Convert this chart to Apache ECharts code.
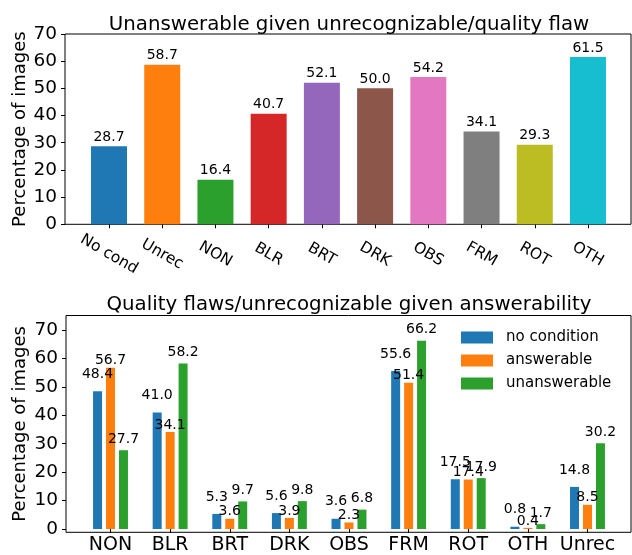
<!DOCTYPE html>
<html>
<head>
<meta charset="utf-8">
<script src="https://cdn.jsdelivr.net/npm/echarts@6/dist/echarts.min.js"></script>
<style>
html,body{margin:0;padding:0;background:#fff;}
#chart{width:632px;height:555px;}
</style>
</head>
<body>
<div id="chart"></div>
<script>
// ---- data ----
const topTitle = 'Unanswerable given unrecognizable/quality flaw';
const bottomTitle = 'Quality flaws/unrecognizable given answerability';
const yName = 'Percentage of images';
const topCategories = ['No cond', 'Unrec', 'NON', 'BLR', 'BRT', 'DRK', 'OBS', 'FRM', 'ROT', 'OTH'];
const topValues = [28.7, 58.7, 16.4, 40.7, 52.1, 50.0, 54.2, 34.1, 29.3, 61.5];
const topColors = ['#1f77b4', '#ff7f0e', '#2ca02c', '#d62728', '#9467bd', '#8c564b', '#e377c2', '#7f7f7f', '#bcbd22', '#17becf'];
const bottomCategories = ['NON', 'BLR', 'BRT', 'DRK', 'OBS', 'FRM', 'ROT', 'OTH', 'Unrec'];
const seriesNames = ['no condition', 'answerable', 'unanswerable'];
const noCondition = [48.4, 41.0, 5.3, 5.6, 3.6, 55.6, 17.5, 0.8, 14.8];
const answerable = [56.7, 34.1, 3.6, 3.9, 2.3, 51.4, 17.4, 0.4, 8.5];
const unanswerable = [27.7, 58.2, 9.7, 9.8, 6.8, 66.2, 17.9, 1.7, 30.2];
const seriesColors = ['#1f77b4', '#ff7f0e', '#2ca02c'];
const yMin = 0, yMax = 70, yStep = 10;
const bottomFrameMax = 75;

// ---- layout ----
const FONT = 'DejaVu Sans';
const topFrame = {left: 65, top: 34, width: 566, height: 190.3};
const topInner = {left: 82.4, top: 34, width: 532.2, height: 190.3};
const botFrame = {left: 66, top: 315.5, width: 565, height: 216.8};
const botInnerH = botFrame.height * yMax / bottomFrameMax;
const botInner = {left: 80.7, top: botFrame.top + botFrame.height - botInnerH, width: 536.6, height: botInnerH};

const chart = echarts.init(document.getElementById('chart'), null, {renderer: 'canvas'});

function frameGrid(g) {
  return Object.assign({show: true, borderColor: '#000', borderWidth: 1, backgroundColor: 'transparent'}, g);
}
function plainGrid(g) { return Object.assign({show: false}, g); }

const fmt = p => Number(p.value).toFixed(1);

const option = {
  animation: false,
  backgroundColor: '#fff',
  textStyle: {fontFamily: FONT},
  title: [
    {text: topTitle, left: 344, top: 10, textAlign: 'center',
     textStyle: {fontFamily: FONT, fontSize: 19.8, fontWeight: 'normal', color: '#000'}},
    {text: bottomTitle, left: 344, top: 290, textAlign: 'center',
     textStyle: {fontFamily: FONT, fontSize: 19.8, fontWeight: 'normal', color: '#000'}}
  ],
  legend: {
    orient: 'vertical', left: 461, top: 330, padding: 0,
    itemWidth: 32, itemHeight: 12, itemGap: 8, icon: 'rect',
    data: seriesNames,
    textStyle: {fontFamily: FONT, fontSize: 15, color: '#000', padding: [0, 0, 0, 8]}
  },
  grid: [frameGrid(topFrame), plainGrid(topInner), frameGrid(botFrame), plainGrid(botInner)],
  xAxis: [
    {gridIndex: 0, type: 'value', show: false},
    {gridIndex: 1, type: 'category', data: topCategories,
     axisLine: {show: false},
     axisTick: {show: true, alignWithLabel: true, length: 4, lineStyle: {color: '#000'}},
     axisLabel: {rotate: -30, align: 'center', verticalAlign: 'middle', margin: 30,
                 fontFamily: FONT, fontSize: 15.5, color: '#000', interval: 0}},
    {gridIndex: 2, type: 'value', show: false},
    {gridIndex: 3, type: 'category', data: bottomCategories,
     axisLine: {show: false},
     axisTick: {show: true, alignWithLabel: true, length: 4, lineStyle: {color: '#000'}},
     axisLabel: {margin: 7, fontFamily: FONT, fontSize: 19, color: '#000', interval: 0}}
  ],
  yAxis: [
    {gridIndex: 0, type: 'value', min: yMin, max: yMax,
     axisLine: {show: false}, axisTick: {show: false}, axisLabel: {show: false}, splitLine: {show: false},
     name: yName, nameLocation: 'middle', nameGap: 36, nameRotate: 90,
     nameTextStyle: {fontFamily: FONT, fontSize: 18, color: '#000'}},
    {gridIndex: 1, type: 'value', min: yMin, max: yMax, interval: yStep, offset: topInner.left - topFrame.left,
     axisLine: {show: false}, splitLine: {show: false},
     axisTick: {show: true, length: 4, lineStyle: {color: '#000'}},
     axisLabel: {margin: 8, fontFamily: FONT, fontSize: 18.5, color: '#000'}},
    {gridIndex: 2, type: 'value', min: yMin, max: bottomFrameMax,
     axisLine: {show: false}, axisTick: {show: false}, axisLabel: {show: false}, splitLine: {show: false},
     name: yName, nameLocation: 'middle', nameGap: 37, nameRotate: 90,
     nameTextStyle: {fontFamily: FONT, fontSize: 18, color: '#000'}},
    {gridIndex: 3, type: 'value', min: yMin, max: yMax, interval: yStep, offset: botInner.left - botFrame.left,
     axisLine: {show: false}, splitLine: {show: false},
     axisTick: {show: true, length: 4, lineStyle: {color: '#000'}},
     axisLabel: {margin: 8, fontFamily: FONT, fontSize: 18.5, color: '#000'}}
  ],
  series: [
    {type: 'bar', xAxisIndex: 1, yAxisIndex: 1, barWidth: 36,
     data: topValues.map((v, i) => ({value: v, itemStyle: {color: topColors[i]}})),
     label: {show: true, position: 'top', distance: 2, formatter: fmt,
             fontFamily: FONT, fontSize: 14, color: '#000'}},
    {type: 'bar', name: seriesNames[0], xAxisIndex: 3, yAxisIndex: 3, barWidth: 9, barGap: '44%',
     itemStyle: {color: seriesColors[0]}, data: noCondition,
     label: {show: true, position: 'top', distance: 10, formatter: fmt,
             fontFamily: FONT, fontSize: 14, color: '#000'}},
    {type: 'bar', name: seriesNames[1], xAxisIndex: 3, yAxisIndex: 3, barWidth: 9, barGap: '44%',
     itemStyle: {color: seriesColors[1]}, data: answerable,
     label: {show: true, position: 'top', distance: 0, formatter: fmt,
             fontFamily: FONT, fontSize: 14, color: '#000'}},
    {type: 'bar', name: seriesNames[2], xAxisIndex: 3, yAxisIndex: 3, barWidth: 9, barGap: '44%',
     itemStyle: {color: seriesColors[2]}, data: unanswerable,
     label: {show: true, position: 'top', distance: 4, formatter: fmt,
             fontFamily: FONT, fontSize: 14, color: '#000'}}
  ]
};
chart.setOption(option);
</script>
</body>
</html>
